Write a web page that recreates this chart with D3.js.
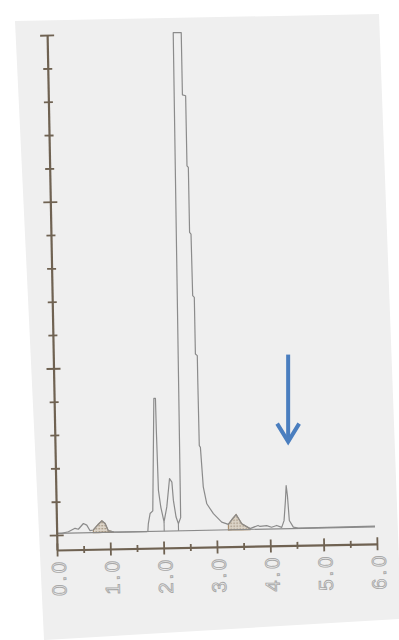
<!DOCTYPE html>
<html>
<head>
<meta charset="utf-8">
<script src="https://cdn.jsdelivr.net/npm/d3@7/dist/d3.min.js"></script>
<style>
  html, body { margin: 0; padding: 0; background: #fff; }
  svg { display: block; }
</style>
</head>
<body>
<div id="chart"></div>
<script>
// retention time (min) / detector signal
const traceTime = [
  0.00, 0.095, 0.22, 0.346, 0.408, 0.504, 0.567, 0.627, 0.689, 0.785, 0.85, 0.911, 0.969,
  1.063, 1.156, 1.69, 1.71, 1.722, 1.758, 1.81, 1.87, 1.90, 1.905, 1.923, 1.961, 2.017,
  2.074, 2.11, 2.135, 2.178, 2.20, 2.244, 2.285, 2.33, 2.365, 2.515, 2.515, 2.575, 2.575,
  2.60, 2.60, 2.626, 2.635, 2.665, 2.665, 2.70, 2.70, 2.705, 2.725, 2.765, 2.825, 2.945,
  3.098, 3.222, 3.30, 3.37, 3.473, 3.627, 3.777, 3.815, 3.94, 4.03, 4.127, 4.221, 4.267,
  4.30, 4.319, 4.339, 4.366, 4.439, 4.532, 5.97
];
const traceSignal = [
  0.05, 0.05, 0.09, 0.19, 0.16, 0.33, 0.28, 0.11, 0.13, 0.30, 0.40, 0.32, 0.10,
  0.06, 0.05, 0.05, 0.06, 0.29, 0.59, 0.67, 4.04, 4.04, 3.09, 1.28, 0.78, 0.33,
  0.78, 1.28, 1.63, 1.52, 0.97, 0.47, 0.27, 0.45, 15.0, 15.0, 13.13, 13.1, 11.0,
  10.95, 9.0, 8.95, 7.1, 7.05, 5.35, 5.3, 4.57, 2.6, 2.55, 1.36, 0.85, 0.55,
  0.29, 0.22, 0.38, 0.51, 0.23, 0.08, 0.17, 0.14, 0.16, 0.11, 0.16, 0.10, 0.30,
  0.90, 1.35, 1.05, 0.30, 0.10, 0.07, 0.08
];

const baselineTime = [0, 5.97];
const baselineSignal = [0.05, 0.06];

// peak separation drop lines
const dropTime = [2.017, 2.285];
const dropSignal = [0.33, 0.27];

// shaded (integrated) humps
const shadeStart = [0.68, 3.2];
const shadeEnd = [1.07, 3.65];

const xTicks = [0, 0.5, 1, 1.5, 2, 2.5, 3, 3.5, 4, 4.5, 5, 5.5, 6];
const xLabels = ['0.0', '1.0', '2.0', '3.0', '4.0', '5.0', '6.0'];
const yTicks = [0, 1, 2, 3, 4, 5, 6, 7, 8, 9, 10, 11, 12, 13, 14, 15];

const arrowTime = 4.319;
const arrowSignal = 1.35;

const W = 399, H = 640;
const originX = 57, originY = 550;
const plotW = 320, plotH = 515;
const tilt = -1.1;
const axisColor = '#6f6252';
const traceColor = '#8b8b8b';

const svg = d3.select('#chart').append('svg')
  .attr('width', W).attr('height', H)
  .attr('viewBox', `0 0 ${W} ${H}`);

svg.append('rect').attr('width', W).attr('height', H).attr('fill', '#fff');
svg.append('polygon')
  .attr('points', '15,21 379,14 399,560 399,619 45,640 44,640')
  .attr('fill', '#efefef');

const defs = svg.append('defs');
const pat = defs.append('pattern')
  .attr('id', 'dots').attr('patternUnits', 'userSpaceOnUse')
  .attr('width', 3).attr('height', 3);
pat.append('rect').attr('width', 3).attr('height', 3).attr('fill', '#ddd5c9');
pat.append('rect').attr('width', 1.2).attr('height', 1.2).attr('fill', '#8f7d66');

const x = d3.scaleLinear().domain([0, 6]).range([0, plotW]);
const y = d3.scaleLinear().domain([-0.45, 15]).range([0, -plotH]);

const g = svg.append('g')
  .attr('transform', `translate(${originX},${originY}) rotate(${tilt})`);

const pts = traceTime.map((t, i) => [t, traceSignal[i]]);

// shaded humps
shadeStart.forEach((s, i) => {
  const part = pts.filter(d => d[0] >= s && d[0] <= shadeEnd[i]);
  g.append('path')
    .datum(part)
    .attr('fill', 'url(#dots)')
    .attr('stroke', '#a88f70')
    .attr('stroke-width', 1.2)
    .attr('d', d3.area()
      .x(d => x(d[0]))
      .y0(y(baselineSignal[0]))
      .y1(d => y(d[1])));
});

// baseline
g.append('line')
  .attr('x1', x(baselineTime[0])).attr('y1', y(baselineSignal[0]))
  .attr('x2', x(baselineTime[1])).attr('y2', y(baselineSignal[1]))
  .attr('stroke', '#8a8a8a').attr('stroke-width', 1.1);

// drop lines
g.selectAll('.drop')
  .data(dropTime)
  .join('line')
  .attr('class', 'drop')
  .attr('x1', d => x(d)).attr('x2', d => x(d))
  .attr('y1', (d, i) => y(dropSignal[i]))
  .attr('y2', y(baselineSignal[0]))
  .attr('stroke', traceColor).attr('stroke-width', 1.1);

// trace
g.append('path')
  .datum(pts)
  .attr('fill', 'none')
  .attr('stroke', traceColor)
  .attr('stroke-width', 1.2)
  .attr('stroke-linejoin', 'round')
  .attr('d', d3.line().x(d => x(d[0])).y(d => y(d[1])));

// x axis
const gx = g.append('g')
  .call(d3.axisBottom(x)
    .tickValues(xTicks)
    .tickSizeOuter(0)
    .tickFormat(d => Number.isInteger(d) ? xLabels[d] : ''));
gx.select('.domain').attr('stroke', axisColor).attr('stroke-width', 2.2);
gx.selectAll('.tick line')
  .attr('stroke', axisColor).attr('stroke-width', 1.8)
  .attr('y1', d => Number.isInteger(d) ? -6.5 : -3.5)
  .attr('y2', d => Number.isInteger(d) ? 6.5 : 3.5);
gx.selectAll('.tick text')
  .attr('transform', 'rotate(-90)')
  .attr('x', -9).attr('y', 8).attr('dy', 0)
  .attr('text-anchor', 'end')
  .attr('font-family', '"Liberation Sans", sans-serif')
  .attr('font-size', 20)
  .attr('letter-spacing', 3)
  .attr('fill', 'none')
  .attr('stroke', '#a8a8a8')
  .attr('stroke-width', 0.9);

// y axis
const gy = g.append('g')
  .call(d3.axisLeft(y).tickValues(yTicks).tickSizeOuter(0).tickFormat(''));
gy.select('.domain').attr('stroke', axisColor).attr('stroke-width', 2.2);
gy.selectAll('.tick line')
  .attr('stroke', axisColor).attr('stroke-width', 1.8)
  .attr('x1', d => d % 5 === 0 ? -7 : -4.5)
  .attr('x2', d => d % 5 === 0 ? 7 : 4.5);

// arrow pointing at the small peak (drawn upright on the page)
const a = tilt * Math.PI / 180;
const lx = x(arrowTime), ly = y(arrowSignal);
const sx = originX + lx * Math.cos(a) - ly * Math.sin(a);
const sy = originY + lx * Math.sin(a) + ly * Math.cos(a);
const tipX = sx + 2, tipY = sy - 42;
const arrow = svg.append('g')
  .attr('stroke', '#4a7ebf').attr('stroke-width', 4).attr('fill', 'none');
arrow.append('line')
  .attr('x1', tipX).attr('y1', tipY - 89)
  .attr('x2', tipX).attr('y2', tipY - 2);
arrow.append('path')
  .attr('stroke-linejoin', 'miter')
  .attr('d', `M${tipX - 11},${tipY - 20} L${tipX},${tipY - 2} L${tipX + 11},${tipY - 20}`);
</script>
</body>
</html>
